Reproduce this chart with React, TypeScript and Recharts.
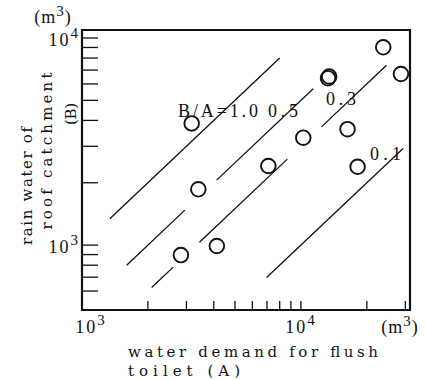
import React from "react";
import {
  ScatterChart,
  Scatter,
  XAxis,
  YAxis,
  ReferenceLine,
  ReferenceArea,
} from "recharts";

// water demand for flush toilet (A), m3
const demandA = [3170, 3400, 2830, 4130, 7100, 10250, 13300, 13460, 16330, 18150, 23770, 28640];
// rain water of roof catchment (B), m3
const rainB = [3870, 1860, 895, 990, 2410, 3300, 6400, 6520, 3630, 2390, 9020, 6700];

// B/A ratio lines and the A ranges where each line is drawn
const ratios = [1.0, 0.5, 0.3, 0.1];
const ratioSegments = [
  [[1340, 8000]],
  [[1600, 2950], [4120, 11380]],
  [[2080, 2610], [3440, 8670], [12410, 24600]],
  [[6970, 29300]],
];

const xTicks = [1000, 2000, 3000, 4000, 5000, 6000, 7000, 8000, 9000, 10000, 20000, 30000];
const yTicks = [600, 700, 800, 900, 1000, 2000, 3000, 4000, 5000, 6000, 7000, 8000, 9000, 10000];

const X_DOMAIN = [1000, 31500];
const Y_DOMAIN = [486, 10930];

const points = demandA.map((a, i) => ({ a, b: rainB[i] }));

const SERIF = "'Liberation Serif', 'DejaVu Serif', serif";
const SLAB = "'DejaVu Serif', 'Liberation Serif', serif";

const isDecade = (v: number) => Math.abs(Math.log10(v) - Math.round(Math.log10(v))) < 1e-6;

const Pow = ({ x, y, exp, anchor }: any) => (
  <text x={x} y={y} textAnchor={anchor} fontFamily={SERIF} fontSize={18} letterSpacing={2} fill="#111">
    10
    <tspan dy={-8} fontSize={15}>{exp}</tspan>
  </text>
);

const XTick = (props: any) => {
  const { x, y, payload } = props;
  const v = payload.value;
  return (
    <g>
      {v > X_DOMAIN[0] && (
        <line x1={x} y1={y} x2={x} y2={y - 9} stroke="#111" strokeWidth={1.3} />
      )}
      {isDecade(v) && (
        <Pow x={v === 1000 ? x + 9 : x} y={y + 23} exp={Math.round(Math.log10(v))} anchor="middle" />
      )}
    </g>
  );
};

const YTick = (props: any) => {
  const { x, y, payload } = props;
  const v = payload.value;
  return (
    <g>
      <line x1={x} y1={y} x2={x + 16} y2={y} stroke="#111" strokeWidth={1.3} />
      {isDecade(v) && (
        <Pow x={x - 2} y={y + 8} exp={Math.round(Math.log10(v))} anchor="end" />
      )}
    </g>
  );
};

const Ring = (p: any) => (
  <circle cx={p.cx} cy={p.cy} r={7.3} fill="none" stroke="#111" strokeWidth={1.9} />
);

const Overlay = () => (
  <svg
    width={425}
    height={380}
    style={{ position: "absolute", left: 0, top: 0, pointerEvents: "none" }}
  >
    <g fontFamily={SERIF} fill="#111">
      <text x={53} y={23} fontSize={18} letterSpacing={1} textAnchor="middle">
        (m<tspan dy={-7} fontSize={15}>3</tspan><tspan dy={7}>)</tspan>
      </text>
      <text x={400} y={333} fontSize={18} letterSpacing={1} textAnchor="middle">
        (m<tspan dy={-7} fontSize={15}>3</tspan><tspan dy={7}>)</tspan>
      </text>
      <text x={178} y={117} fontSize={18} textLength={80} lengthAdjust="spacing">B/A=1.0</text>
      <text x={268} y={117} fontSize={18} textLength={30} lengthAdjust="spacing">0.5</text>
      <text x={326} y={105} fontSize={18} textLength={30} lengthAdjust="spacing">0.3</text>
      <text x={370} y={160} fontSize={18} textLength={31} lengthAdjust="spacing">0.1</text>
    </g>
    <g fontFamily={SLAB} fill="#111" fontSize={15}>
      <text x={128} y={357} textLength={250} lengthAdjust="spacing">water demand for flush</text>
      <text x={128} y={376} textLength={112} lengthAdjust="spacing">toilet (A)</text>
      <text
        x={27}
        y={186}
        transform="rotate(-90, 27, 186)"
        textAnchor="middle"
        dominantBaseline="central"
        textLength={118}
        lengthAdjust="spacing"
      >
        rain water of
      </text>
      <text
        x={47}
        y={151}
        transform="rotate(-90, 47, 151)"
        textAnchor="middle"
        dominantBaseline="central"
        textLength={157}
        lengthAdjust="spacing"
      >
        roof catchment
      </text>
      <text
        x={71}
        y={114}
        transform="rotate(-90, 71, 114)"
        textAnchor="middle"
        dominantBaseline="central"
        textLength={22}
        lengthAdjust="spacing"
      >
        (B)
      </text>
    </g>
  </svg>
);

export default function App() {
  return (
    <div style={{ position: "absolute", left: 0, top: 0, width: 425, height: 380, background: "#fff" }}>
      <ScatterChart
        width={425}
        height={380}
        margin={{ top: 30, right: 15, left: 81, bottom: 69 }}
      >
        <XAxis
          type="number"
          dataKey="a"
          scale="log"
          domain={X_DOMAIN}
          allowDataOverflow
          ticks={xTicks}
          interval={0}
          height={1}
          axisLine={false}
          tickLine={false}
          tickSize={0}
          tickMargin={0}
          tick={<XTick />}
        />
        <YAxis
          type="number"
          dataKey="b"
          scale="log"
          domain={Y_DOMAIN}
          allowDataOverflow
          ticks={yTicks}
          interval={0}
          width={1}
          axisLine={false}
          tickLine={false}
          tickSize={0}
          tickMargin={0}
          tick={<YTick />}
        />
        <ReferenceArea
          x1={X_DOMAIN[0]}
          x2={X_DOMAIN[1]}
          y1={Y_DOMAIN[0]}
          y2={Y_DOMAIN[1]}
          fill="none"
          fillOpacity={0}
          stroke="#111"
          strokeWidth={2.2}
          ifOverflow="visible"
        />
        {ratios.map((k, i) =>
          ratioSegments[i].map(([a0, a1], j) => (
            <ReferenceLine
              key={`${k}-${j}`}
              segment={[
                { x: a0, y: k * a0 },
                { x: a1, y: k * a1 },
              ]}
              stroke="#111"
              strokeWidth={1.3}
              ifOverflow="visible"
            />
          ))
        )}
        <Scatter data={points} shape={<Ring />} isAnimationActive={false} />
      </ScatterChart>
      <Overlay />
    </div>
  );
}
